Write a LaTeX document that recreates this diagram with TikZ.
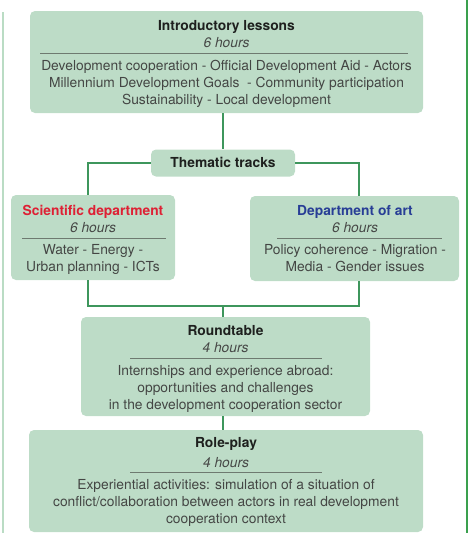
\documentclass[tikz,border=0pt]{standalone}
\usepackage{fontspec}
\setmainfont{TeX Gyre Heros}
\definecolor{boxgreen}{RGB}{189,220,199}
\definecolor{linegreen}{RGB}{62,150,92}
\definecolor{edgegreen}{RGB}{58,160,78}
\definecolor{paleline}{RGB}{186,220,196}
\definecolor{bodygray}{RGB}{68,70,68}
\definecolor{titlegray}{RGB}{30,32,30}
\definecolor{hourgray}{RGB}{70,72,70}
\definecolor{sepgray}{RGB}{110,122,112}
\definecolor{scired}{RGB}{222,32,52}
\definecolor{artblue}{RGB}{40,62,150}
\tikzset{
  box/.style={fill=boxgreen, rounded corners=5pt, draw=none, inner sep=0pt},
  ttl/.style={anchor=base, font=\fontsize{13.8}{17}\selectfont\bfseries, text=titlegray, inner sep=0pt},
  hrs/.style={anchor=base, font=\fontsize{13.8}{17}\selectfont\itshape, text=hourgray, inner sep=0pt},
  bdy/.style={anchor=base, font=\fontsize{13.8}{17}\selectfont, text=bodygray, inner sep=0pt},
  sep/.style={draw=sepgray, line width=0.9pt},
  conn/.style={draw=linegreen, line width=1.6pt}
}
\begin{document}
\begin{tikzpicture}[x=1pt,y=-1pt]
\useasboundingbox (0,0) rectangle (470,533);
% side rules
\draw[paleline, line width=2pt] (2.5,12) -- (2.5,533);
\draw[edgegreen, line width=2pt] (467,0) -- (467,533);

% boxes
\node[box, minimum width=393pt, minimum height=102pt] (intro) at (226.5,62) {};
\node[box, minimum width=144pt, minimum height=27pt] (thematic) at (223,163) {};
\node[box, minimum width=164pt, minimum height=85pt] (sci) at (93,237.5) {};
\node[box, minimum width=209pt, minimum height=85pt] (art) at (354.5,238.5) {};
\node[box, minimum width=289pt, minimum height=99pt] (round) at (225.5,366.5) {};
\node[box, minimum width=394pt, minimum height=102pt] (role) at (226,481) {};

% connectors
\coordinate (sciTop) at (88,195);
\coordinate (artTop) at (359,196);
\coordinate (sciBot) at (88,280);
\coordinate (artBot) at (359,281);
\coordinate (join) at (223,306);
\draw[conn] (thematic.north |- intro.south) -- (thematic.north);
\draw[conn] (thematic.west) -| (sciTop);
\draw[conn] (thematic.east) -| (artTop);
\draw[conn] (sciBot) |- (join) -| (artBot);
\draw[conn] (join) -- (join |- round.north);
\draw[conn] (join |- round.south) -- (join |- role.north);

% Introductory lessons
\node[ttl] (introT) at (226.5,30) {Introductory lessons};
\node[hrs] (introH) at (226.5,47) {6 hours};
\draw[sep] (40,53) -- (408,53);
\node[bdy] (introB1) at (226.5,70) {Development cooperation - Official Development Aid - Actors};
\node[bdy] (introB2) at (226.5,87) {Millennium Development Goals \ - Community participation};
\node[bdy] (introB3) at (226.5,104) {Sustainability - Local development};

% Thematic tracks
\node[ttl] (thematicT) at (223,167) {Thematic tracks};

% Scientific department
\node[ttl, text=scired] (sciT) at (93,215) {Scientific department};
\node[hrs] (sciH) at (93,232) {6 hours};
\draw[sep] (22,238) -- (166,238);
\node[bdy] (sciB1) at (93,254) {Water - Energy -};
\node[bdy] (sciB2) at (93,271) {Urban planning - ICTs};

% Department of art
\node[ttl, text=artblue] (artT) at (355,215) {Department of art};
\node[hrs] (artH) at (355,232) {6 hours};
\draw[sep] (277,238) -- (442,238);
\node[bdy] (artB1) at (355,254) {Policy coherence - Migration -};
\node[bdy] (artB2) at (355,271) {Media - Gender issues};

% Roundtable
\node[ttl] (roundT) at (225.5,335) {Roundtable};
\node[hrs] (roundH) at (225.5,352) {4 hours};
\draw[sep] (130,358) -- (322,358);
\node[bdy] (roundB1) at (225.5,375) {Internships and experience abroad:};
\node[bdy] (roundB2) at (225.5,392) {opportunities and challenges};
\node[bdy] (roundB3) at (225.5,409) {in the development cooperation sector};

% Role-play
\node[ttl] (roleT) at (226,447) {Role-play};
\node[hrs] (roleH) at (226,467) {4 hours};
\draw[sep] (130,472) -- (322,472);
\node[bdy] (roleB1) at (226,489) {Experiential activities: simulation of a situation of};
\node[bdy] (roleB2) at (226,506) {conflict/collaboration between actors in real development};
\node[bdy] (roleB3) at (226,523) {cooperation context};
\end{tikzpicture}
\end{document}
